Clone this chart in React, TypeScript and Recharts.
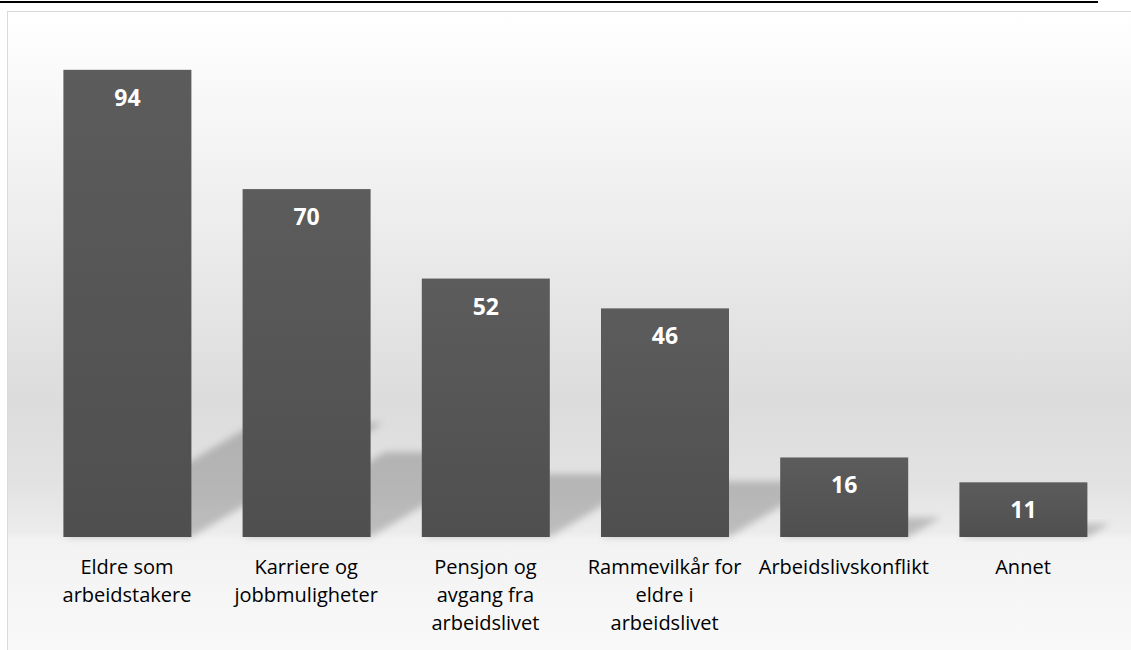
import React from 'react';
import { BarChart, Bar, XAxis, YAxis, LabelList } from 'recharts';

// ---- data ----
const categories: string[] = [
  'Eldre som\narbeidstakere',
  'Karriere og\njobbmuligheter',
  'Pensjon og\navgang fra\narbeidslivet',
  'Rammevilkår for\neldre i\narbeidslivet',
  'Arbeidslivskonflikt',
  'Annet',
];
const values: number[] = [94, 70, 52, 46, 16, 11];
const yDomain: [number, number] = [0, 100];

const data = categories.map((c, i) => ({ category: c, value: values[i] }));

const FONT = '"Open Sans", "Noto Sans", sans-serif';
const SHADOW_K = 0.41; // horizontal shear of cast shadow per px of bar height
const SHADOW_S = 0.244; // vertical rise of cast shadow per px of bar height

function ShadowBar(props: any) {
  const { x, y, width, height } = props;
  if (height == null || height <= 0) return null;
  const base = y + height;
  const dx = height * SHADOW_K;
  const dy = height * SHADOW_S;
  const pts = `${x},${base} ${x + width},${base} ${x + width + dx},${base - dy} ${x + dx},${base - dy}`;
  return (
    <g>
      <polygon points={pts} fill="#000" fillOpacity={0.2} filter="url(#shadowBlur)" />
      <rect x={x} y={y} width={width} height={height} fill="url(#barGrad)" />
    </g>
  );
}

function ValueLabel(props: any) {
  const { x, y, width, value } = props;
  return (
    <text
      x={Number(x) + Number(width) / 2}
      y={Number(y) + 36}
      textAnchor="middle"
      fill="#ffffff"
      fontSize={23}
      fontWeight={700}
      fontFamily={FONT}
    >
      {value}
    </text>
  );
}

function CategoryTick(props: any) {
  const { x, y, payload } = props;
  const lines = String(payload.value).split('\n');
  return (
    <text x={x} y={y} textAnchor="middle" fill="#000000" fontSize={20} fontFamily={FONT}>
      {lines.map((l, i) => (
        <tspan key={i} x={x} dy={i === 0 ? 37 : 28}>
          {l}
        </tspan>
      ))}
    </text>
  );
}

export default function App() {
  return (
    <div
      style={{
        position: 'absolute',
        left: 0,
        top: 0,
        width: 1131,
        height: 650,
        overflow: 'hidden',
        background: '#ffffff',
      }}
    >
      <div
        style={{
          position: 'absolute',
          left: 0,
          top: 1,
          width: 1098,
          height: 2,
          background: '#000000',
        }}
      />
      <div
        style={{
          position: 'absolute',
          left: 7,
          top: 11,
          width: 1140,
          height: 660,
          border: '1px solid #d9d9d9',
          background:
            'linear-gradient(to bottom, #ffffff 0px, #fafafa 60px, #ececec 220px, #dcdcdc 390px, #e2e2e2 470px, #ececec 520px, #f2f2f2 527px, #f9f9f9 640px)',
        }}
      >
        <BarChart
          width={1124}
          height={639}
          data={data}
          margin={{ top: 28, right: 19.4, left: 29.4, bottom: 14 }}
        >
          <defs>
            <linearGradient id="barGrad" x1="0" y1="0" x2="0" y2="1">
              <stop offset="0%" stopColor="#5c5c5c" />
              <stop offset="100%" stopColor="#4f4f4f" />
            </linearGradient>
            <filter id="shadowBlur" x="-30%" y="-30%" width="160%" height="160%">
              <feGaussianBlur stdDeviation="3.5" />
            </filter>
          </defs>
          <XAxis
            dataKey="category"
            axisLine={false}
            tickLine={false}
            tickSize={0}
            tickMargin={0}
            height={100}
            interval={0}
            tick={<CategoryTick />}
          />
          <YAxis hide width={0} domain={yDomain} />
          <Bar dataKey="value" barSize={128} shape={<ShadowBar />} isAnimationActive={false}>
            <LabelList dataKey="value" content={<ValueLabel />} />
          </Bar>
        </BarChart>
      </div>
    </div>
  );
}
